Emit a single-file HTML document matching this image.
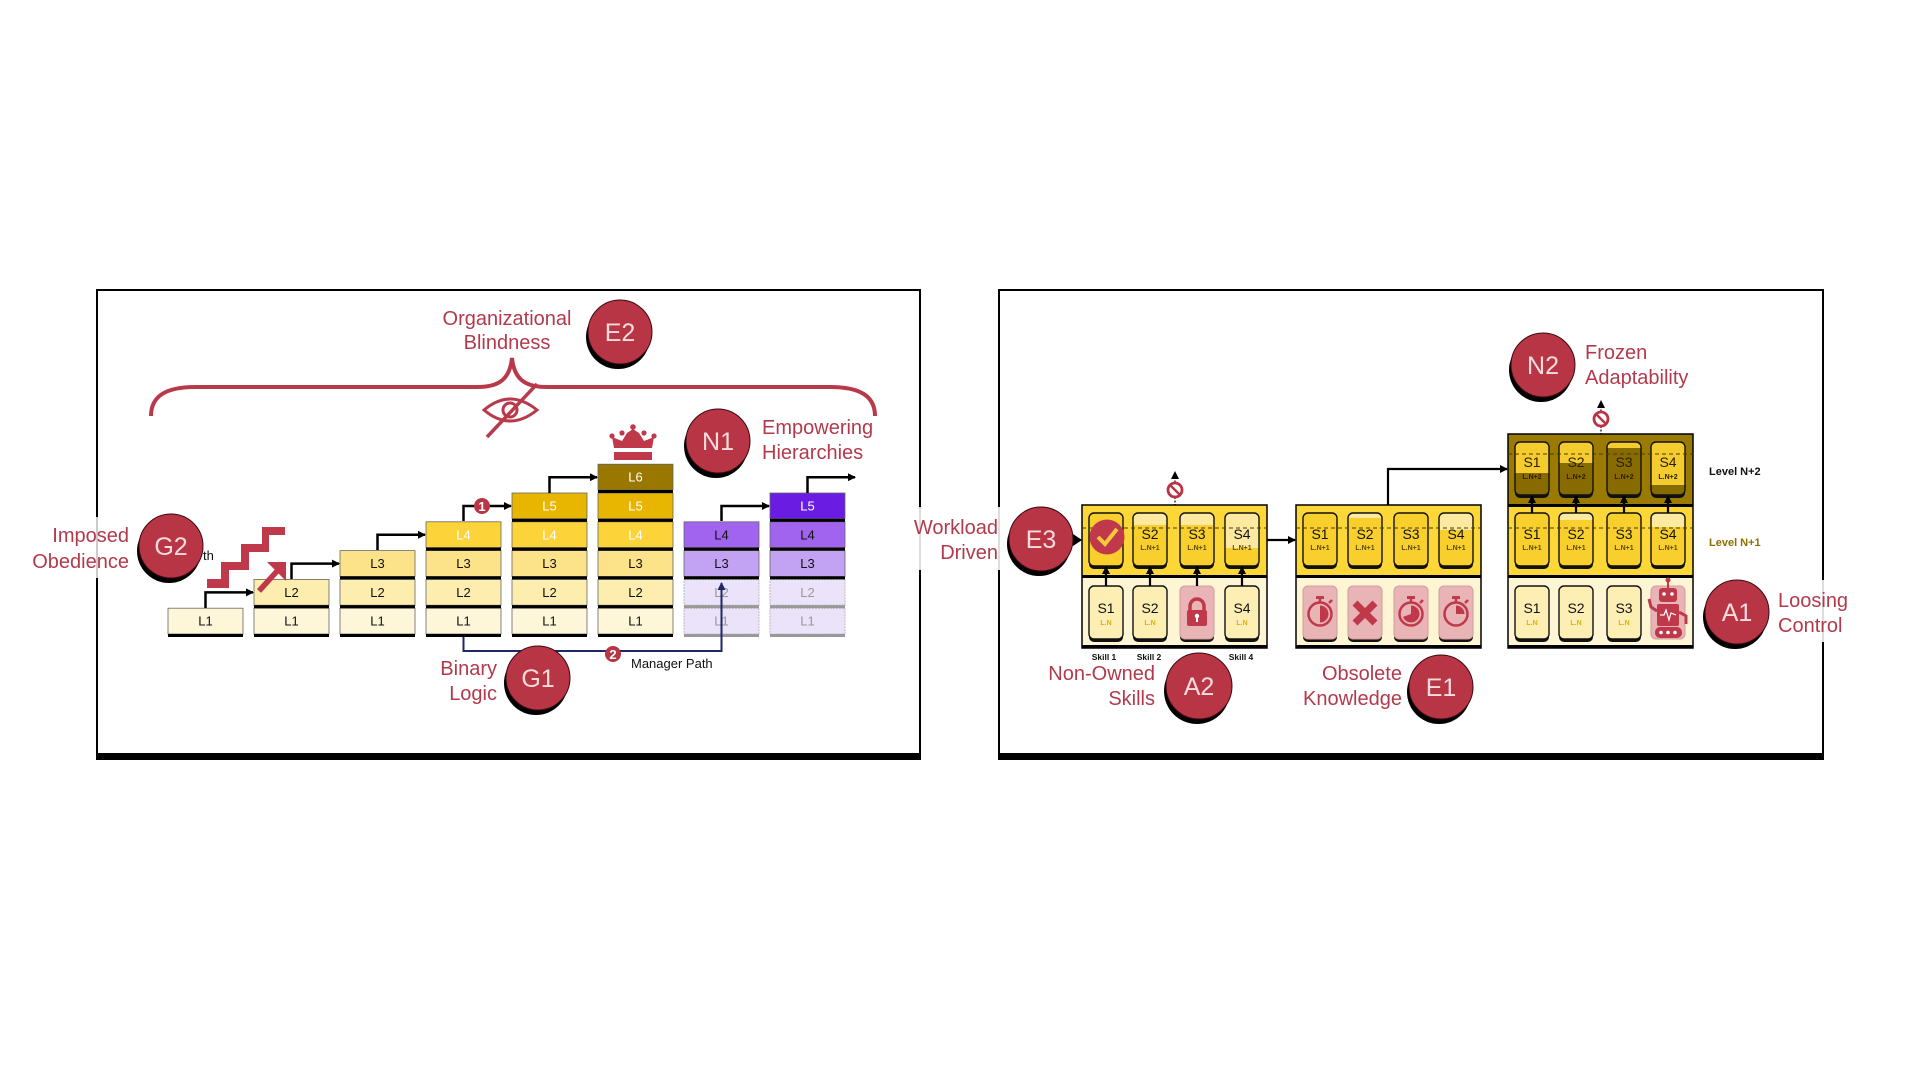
<!DOCTYPE html>
<html><head><meta charset="utf-8"><style>
html,body{margin:0;padding:0;background:#fff;width:1917px;height:1072px;overflow:hidden}
svg{display:block}
.lbl{font-family:"Liberation Sans",sans-serif;font-size:20px;fill:#b23a4c}
.bt{font-family:"Liberation Sans",sans-serif;font-size:25px;fill:#f7dcdc;text-anchor:middle}
.lt{font-family:"Liberation Sans",sans-serif;font-size:13px;text-anchor:middle;fill:#111}
.s{font-family:"Liberation Sans",sans-serif;font-size:14px;text-anchor:middle;fill:#111}
.sl{font-family:"Liberation Sans",sans-serif;font-size:7px;font-weight:bold;text-anchor:middle;fill:#5a4a00}
.sg{font-family:"Liberation Sans",sans-serif;font-size:7px;font-weight:bold;text-anchor:middle;fill:#e0b000}
.sk{font-family:"Liberation Sans",sans-serif;font-size:8.5px;font-weight:bold;text-anchor:middle;fill:#111}
</style></head><body>
<svg width="1917" height="1072" viewBox="0 0 1917 1072" xmlns="http://www.w3.org/2000/svg">
<defs>
<marker id="ah" markerWidth="8" markerHeight="8" refX="7" refY="4" orient="auto" markerUnits="userSpaceOnUse"><path d="M0,0 L8,4 L0,8 Z" fill="#000"/></marker>
<marker id="ahn" markerWidth="8" markerHeight="8" refX="7" refY="4" orient="auto" markerUnits="userSpaceOnUse"><path d="M0,0 L8,4 L0,8 Z" fill="#1e2768"/></marker>
</defs>

<!-- ========== LEFT BOX ========== -->
<rect x="97" y="290" width="823" height="467" fill="none" stroke="#000" stroke-width="2"/>
<rect x="96" y="753" width="825" height="7" fill="#000"/>

<!-- brace -->
<path d="M151,416 C151,396 166,387 195,387 L478,387 C500,387 510,378 512,358 C514,378 524,387 546,387 L830,387 C860,387 875,396 875,416" fill="none" stroke="#b83a4a" stroke-width="4"/>
<!-- eye -->
<path d="M484,410 Q510,388 537,410 Q510,432 484,410 Z" fill="none" stroke="#b83a4a" stroke-width="3"/>
<circle cx="510" cy="410" r="7" fill="none" stroke="#b83a4a" stroke-width="3"/>
<line x1="487" y1="437" x2="537" y2="384" stroke="#b83a4a" stroke-width="3.5"/>

<!-- crown -->
<polygon points="614,448 612,437 622,441 627,433 633,429 639,433 644,441 654,437 652,448" fill="#c0394b"/>
<circle cx="612" cy="436" r="2.6" fill="#c0394b"/><circle cx="622" cy="433" r="2.6" fill="#c0394b"/>
<circle cx="633" cy="427" r="2.8" fill="#c0394b"/><circle cx="644" cy="433" r="2.6" fill="#c0394b"/>
<circle cx="654" cy="436" r="2.6" fill="#c0394b"/>
<rect x="614" y="452" width="38" height="8" fill="#c0394b"/>

<!-- stairs icon -->
<path d="M207,579 H221 V562 H241 V544 H262 V527 H285 V535 H269 V552 H249 V570 H229 V588 H207 Z" fill="#c0394b"/>

<!-- "th" -->
<text x="203" y="560" font-family="Liberation Sans,sans-serif" font-size="13" fill="#111">th</text>

<!-- columns -->
<g stroke="#666" stroke-width="0.8">
<rect x="168" y="608.2" width="75" height="25.8" fill="#fef6d8"/><rect x="168" y="634" width="75" height="3" fill="#000" stroke="none"/>
<rect x="254" y="608.2" width="75" height="25.8" fill="#fef6d8"/><rect x="254" y="634" width="75" height="3" fill="#000" stroke="none"/>
<rect x="254" y="579.4" width="75" height="25.8" fill="#fdeeb0"/><rect x="254" y="605.2" width="75" height="3" fill="#000" stroke="none"/>
<rect x="340" y="608.2" width="75" height="25.8" fill="#fef6d8"/><rect x="340" y="634" width="75" height="3" fill="#000" stroke="none"/>
<rect x="340" y="579.4" width="75" height="25.8" fill="#fdeeb0"/><rect x="340" y="605.2" width="75" height="3" fill="#000" stroke="none"/>
<rect x="340" y="550.6" width="75" height="25.8" fill="#fce38a"/><rect x="340" y="576.4" width="75" height="3" fill="#000" stroke="none"/>
<rect x="426" y="608.2" width="75" height="25.8" fill="#fef6d8"/><rect x="426" y="634" width="75" height="3" fill="#000" stroke="none"/>
<rect x="426" y="579.4" width="75" height="25.8" fill="#fdeeb0"/><rect x="426" y="605.2" width="75" height="3" fill="#000" stroke="none"/>
<rect x="426" y="550.6" width="75" height="25.8" fill="#fce38a"/><rect x="426" y="576.4" width="75" height="3" fill="#000" stroke="none"/>
<rect x="426" y="521.8" width="75" height="25.8" fill="#fcd43a"/><rect x="426" y="547.6" width="75" height="3" fill="#000" stroke="none"/>
<rect x="512" y="608.2" width="75" height="25.8" fill="#fef6d8"/><rect x="512" y="634" width="75" height="3" fill="#000" stroke="none"/>
<rect x="512" y="579.4" width="75" height="25.8" fill="#fdeeb0"/><rect x="512" y="605.2" width="75" height="3" fill="#000" stroke="none"/>
<rect x="512" y="550.6" width="75" height="25.8" fill="#fce38a"/><rect x="512" y="576.4" width="75" height="3" fill="#000" stroke="none"/>
<rect x="512" y="521.8" width="75" height="25.8" fill="#fcd43a"/><rect x="512" y="547.6" width="75" height="3" fill="#000" stroke="none"/>
<rect x="512" y="493" width="75" height="25.8" fill="#e8b500"/><rect x="512" y="518.8" width="75" height="3" fill="#000" stroke="none"/>
<rect x="598" y="608.2" width="75" height="25.8" fill="#fef6d8"/><rect x="598" y="634" width="75" height="3" fill="#000" stroke="none"/>
<rect x="598" y="579.4" width="75" height="25.8" fill="#fdeeb0"/><rect x="598" y="605.2" width="75" height="3" fill="#000" stroke="none"/>
<rect x="598" y="550.6" width="75" height="25.8" fill="#fce38a"/><rect x="598" y="576.4" width="75" height="3" fill="#000" stroke="none"/>
<rect x="598" y="521.8" width="75" height="25.8" fill="#fcd43a"/><rect x="598" y="547.6" width="75" height="3" fill="#000" stroke="none"/>
<rect x="598" y="493" width="75" height="25.8" fill="#e8b500"/><rect x="598" y="518.8" width="75" height="3" fill="#000" stroke="none"/>
<rect x="598" y="464.2" width="75" height="25.8" fill="#9a7800"/><rect x="598" y="490" width="75" height="3" fill="#000" stroke="none"/>
<rect x="684" y="608.2" width="75" height="25.8" fill="#ebe3f9" stroke="#aaa" stroke-dasharray="2,1"/><rect x="684" y="634" width="75" height="3" fill="#999" stroke="none"/>
<rect x="684" y="579.4" width="75" height="25.8" fill="#ebe3f9" stroke="#aaa" stroke-dasharray="2,1"/><rect x="684" y="605.2" width="75" height="3" fill="#999" stroke="none"/>
<rect x="684" y="550.6" width="75" height="25.8" fill="#c2a3f3"/><rect x="684" y="576.4" width="75" height="3" fill="#000" stroke="none"/>
<rect x="684" y="521.8" width="75" height="25.8" fill="#a064ee"/><rect x="684" y="547.6" width="75" height="3" fill="#000" stroke="none"/>
<rect x="770" y="608.2" width="75" height="25.8" fill="#ebe3f9" stroke="#aaa" stroke-dasharray="2,1"/><rect x="770" y="634" width="75" height="3" fill="#999" stroke="none"/>
<rect x="770" y="579.4" width="75" height="25.8" fill="#ebe3f9" stroke="#aaa" stroke-dasharray="2,1"/><rect x="770" y="605.2" width="75" height="3" fill="#999" stroke="none"/>
<rect x="770" y="550.6" width="75" height="25.8" fill="#c2a3f3"/><rect x="770" y="576.4" width="75" height="3" fill="#000" stroke="none"/>
<rect x="770" y="521.8" width="75" height="25.8" fill="#a064ee"/><rect x="770" y="547.6" width="75" height="3" fill="#000" stroke="none"/>
<rect x="770" y="493" width="75" height="25.8" fill="#6a1ce2"/><rect x="770" y="518.8" width="75" height="3" fill="#000" stroke="none"/>
</g>

<!-- red diagonal arrow (over L2) -->
<line x1="259" y1="591" x2="279" y2="569" stroke="#c0394b" stroke-width="5.5"/>
<polygon points="286,562 267,562 286,581" fill="#c0394b"/>

<!-- column labels -->
<g class="lt">
<text x="205.5" y="625.7" class="lt">L1</text>
<text x="291.5" y="625.7" class="lt">L1</text><text x="291.5" y="596.9" class="lt">L2</text>
<text x="377.5" y="625.7" class="lt">L1</text><text x="377.5" y="596.9" class="lt">L2</text><text x="377.5" y="568.1" class="lt">L3</text>
<text x="463.5" y="625.7" class="lt">L1</text><text x="463.5" y="596.9" class="lt">L2</text><text x="463.5" y="568.1" class="lt">L3</text><text x="463.5" y="539.3" class="lt" style="fill:#fff">L4</text>
<text x="549.5" y="625.7" class="lt">L1</text><text x="549.5" y="596.9" class="lt">L2</text><text x="549.5" y="568.1" class="lt">L3</text><text x="549.5" y="539.3" class="lt" style="fill:#fff">L4</text><text x="549.5" y="510.5" class="lt" style="fill:#fff">L5</text>
<text x="635.5" y="625.7" class="lt">L1</text><text x="635.5" y="596.9" class="lt">L2</text><text x="635.5" y="568.1" class="lt">L3</text><text x="635.5" y="539.3" class="lt" style="fill:#fff">L4</text><text x="635.5" y="510.5" class="lt" style="fill:#fff">L5</text><text x="635.5" y="481.7" class="lt" style="fill:#fff">L6</text>
<text x="721.5" y="625.7" class="lt" style="fill:#999">L1</text><text x="721.5" y="596.9" class="lt" style="fill:#999">L2</text><text x="721.5" y="568.1" class="lt">L3</text><text x="721.5" y="539.3" class="lt">L4</text>
<text x="807.5" y="625.7" class="lt" style="fill:#999">L1</text><text x="807.5" y="596.9" class="lt" style="fill:#999">L2</text><text x="807.5" y="568.1" class="lt">L3</text><text x="807.5" y="539.3" class="lt">L4</text><text x="807.5" y="510.5" class="lt" style="fill:#fff">L5</text>
</g>

<!-- step arrows -->
<g fill="none" stroke="#000" stroke-width="2.5">
<path d="M205.5,608 V592.4 H253" marker-end="url(#ah)"/>
<path d="M291.5,579 V563.6 H339" marker-end="url(#ah)"/>
<path d="M377.5,550 V534.8 H425" marker-end="url(#ah)"/>
<path d="M463.5,521 V506 H511" marker-end="url(#ah)"/>
<path d="M549.5,493 V477.2 H597" marker-end="url(#ah)"/>
<path d="M721.5,521 V506 H769" marker-end="url(#ah)"/>
<path d="M807.5,493 V477.2 H855" marker-end="url(#ah)"/>
</g>
<circle cx="482" cy="506" r="8" fill="#b83545"/>
<text x="482" y="511" font-family="Liberation Sans,sans-serif" font-size="13" font-weight="bold" fill="#fff" text-anchor="middle">1</text>

<!-- manager path -->
<path d="M463.5,637 V651 H721.5 V583" fill="none" stroke="#1e2768" stroke-width="2" marker-end="url(#ahn)"/>
<circle cx="613" cy="654" r="8" fill="#b83545"/>
<text x="613" y="659" font-family="Liberation Sans,sans-serif" font-size="13" font-weight="bold" fill="#fff" text-anchor="middle">2</text>
<text x="631" y="668" font-family="Liberation Sans,sans-serif" font-size="13" fill="#111">Manager Path</text>

<!-- ========== RIGHT BOX ========== -->
<rect x="999" y="290" width="824" height="467" fill="none" stroke="#000" stroke-width="2"/>
<rect x="998" y="753" width="826" height="7" fill="#000"/>

<!-- panel 1 -->
<rect x="1082" y="505" width="185" height="70" fill="#fdd638"/>
<rect x="1082" y="578" width="185" height="67" fill="#fef5d5"/>
<rect x="1082" y="575" width="185" height="3" fill="#000"/>
<rect x="1082" y="645" width="185" height="3" fill="#000"/>
<rect x="1082" y="505" width="185" height="143" fill="none" stroke="#000" stroke-width="1.5"/>
<!-- panel 2 -->
<rect x="1296" y="505" width="185" height="70" fill="#fdd638"/>
<rect x="1296" y="578" width="185" height="67" fill="#fef5d5"/>
<rect x="1296" y="575" width="185" height="3" fill="#000"/>
<rect x="1296" y="645" width="185" height="3" fill="#000"/>
<rect x="1296" y="505" width="185" height="143" fill="none" stroke="#000" stroke-width="1.5"/>
<!-- panel 3 -->
<rect x="1508" y="434" width="185" height="70" fill="#9a7a02"/>
<rect x="1508" y="504" width="185" height="3" fill="#000"/>
<rect x="1508" y="507" width="185" height="68" fill="#fdd638"/>
<rect x="1508" y="578" width="185" height="67" fill="#fef5d5"/>
<rect x="1508" y="575" width="185" height="3" fill="#000"/>
<rect x="1508" y="645" width="185" height="3" fill="#000"/>
<rect x="1508" y="434" width="185" height="214" fill="none" stroke="#000" stroke-width="1.5"/>

<!-- card shadows -->
<g fill="#111">
<rect x="1089" y="516" width="34" height="53" rx="5"/><rect x="1133" y="516" width="34" height="53" rx="5"/><rect x="1180" y="516" width="34" height="53" rx="5"/><rect x="1225" y="516" width="34" height="53" rx="5"/>
<rect x="1089" y="589" width="34" height="53" rx="5"/><rect x="1133" y="589" width="34" height="53" rx="5"/><rect x="1180" y="589" width="34" height="53" rx="5"/><rect x="1225" y="589" width="34" height="53" rx="5"/>
<rect x="1303" y="516" width="34" height="53" rx="5"/><rect x="1348" y="516" width="34" height="53" rx="5"/><rect x="1394" y="516" width="34" height="53" rx="5"/><rect x="1439" y="516" width="34" height="53" rx="5"/>
<rect x="1303" y="589" width="34" height="53" rx="5"/><rect x="1348" y="589" width="34" height="53" rx="5"/><rect x="1394" y="589" width="34" height="53" rx="5"/><rect x="1439" y="589" width="34" height="53" rx="5"/>
<rect x="1515" y="445" width="34" height="53" rx="5"/><rect x="1559" y="445" width="34" height="53" rx="5"/><rect x="1607" y="445" width="34" height="53" rx="5"/><rect x="1651" y="445" width="34" height="53" rx="5"/>
<rect x="1515" y="516" width="34" height="53" rx="5"/><rect x="1559" y="516" width="34" height="53" rx="5"/><rect x="1607" y="516" width="34" height="53" rx="5"/><rect x="1651" y="516" width="34" height="53" rx="5"/>
<rect x="1515" y="589" width="34" height="53" rx="5"/><rect x="1559" y="589" width="34" height="53" rx="5"/><rect x="1607" y="589" width="34" height="53" rx="5"/>
</g>

<!-- panel1 upper cards -->
<rect x="1089" y="513" width="34" height="53" rx="5" fill="#f9cf2e"/>
<rect x="1133" y="513" width="34" height="53" rx="5" fill="#fde9a0"/><path d="M1133,525 H1167 V561 Q1167,566 1162,566 H1138 Q1133,566 1133,561 Z" fill="#f9cf2e"/>
<rect x="1180" y="513" width="34" height="53" rx="5" fill="#fde9a0"/><path d="M1180,525 H1214 V561 Q1214,566 1209,566 H1185 Q1180,566 1180,561 Z" fill="#f9cf2e"/>
<rect x="1225" y="513" width="34" height="53" rx="5" fill="#fde9a0"/><path d="M1225,548 H1259 V561 Q1259,566 1254,566 H1230 Q1225,566 1225,561 Z" fill="#f9cf2e"/>
<!-- panel1 lower cards -->
<rect x="1089" y="586" width="34" height="53" rx="5" fill="#fdeeb4"/>
<rect x="1133" y="586" width="34" height="53" rx="5" fill="#fdeeb4"/>
<rect x="1180" y="586" width="34" height="53" rx="5" fill="#e8b4b6"/>
<rect x="1225" y="586" width="34" height="53" rx="5" fill="#fdeeb4"/>
<!-- panel2 upper -->
<rect x="1303" y="513" width="34" height="53" rx="5" fill="#f9cf2e"/>
<rect x="1348" y="513" width="34" height="53" rx="5" fill="#fde9a0"/><path d="M1348,518 H1382 V561 Q1382,566 1377,566 H1353 Q1348,566 1348,561 Z" fill="#f9cf2e"/>
<rect x="1394" y="513" width="34" height="53" rx="5" fill="#f9cf2e"/>
<rect x="1439" y="513" width="34" height="53" rx="5" fill="#fde9a0"/><path d="M1439,530 H1473 V561 Q1473,566 1468,566 H1444 Q1439,566 1439,561 Z" fill="#f9cf2e"/>
<!-- panel2 lower -->
<rect x="1303" y="586" width="34" height="53" rx="5" fill="#e8b4b6"/>
<rect x="1348" y="586" width="34" height="53" rx="5" fill="#e8b4b6"/>
<rect x="1394" y="586" width="34" height="53" rx="5" fill="#e8b4b6"/>
<rect x="1439" y="586" width="34" height="53" rx="5" fill="#e8b4b6"/>
<!-- panel3 top -->
<rect x="1515" y="442" width="34" height="53" rx="5" fill="#f5cc30"/><path d="M1515,473 H1549 V490 Q1549,495 1544,495 H1520 Q1515,495 1515,490 Z" fill="#876a00"/>
<rect x="1559" y="442" width="34" height="53" rx="5" fill="#f5cc30"/><path d="M1559,463 H1593 V490 Q1593,495 1588,495 H1564 Q1559,495 1559,490 Z" fill="#876a00"/>
<rect x="1607" y="442" width="34" height="53" rx="5" fill="#f5cc30"/><path d="M1607,448 H1641 V490 Q1641,495 1636,495 H1612 Q1607,495 1607,490 Z" fill="#876a00"/>
<rect x="1651" y="442" width="34" height="53" rx="5" fill="#f5cc30"/><path d="M1651,485 H1685 V490 Q1685,495 1680,495 H1656 Q1651,495 1651,490 Z" fill="#876a00"/>
<!-- panel3 mid -->
<rect x="1515" y="513" width="34" height="53" rx="5" fill="#f9cf2e"/>
<rect x="1559" y="513" width="34" height="53" rx="5" fill="#fde9a0"/><path d="M1559,520 H1593 V561 Q1593,566 1588,566 H1564 Q1559,566 1559,561 Z" fill="#f9cf2e"/>
<rect x="1607" y="513" width="34" height="53" rx="5" fill="#f9cf2e"/>
<rect x="1651" y="513" width="34" height="53" rx="5" fill="#fde9a0"/><path d="M1651,527 H1685 V561 Q1685,566 1680,566 H1656 Q1651,566 1651,561 Z" fill="#f9cf2e"/>
<!-- panel3 lower -->
<rect x="1515" y="586" width="34" height="53" rx="5" fill="#fdeeb4"/>
<rect x="1559" y="586" width="34" height="53" rx="5" fill="#fdeeb4"/>
<rect x="1607" y="586" width="34" height="53" rx="5" fill="#fdeeb4"/>
<rect x="1651" y="586" width="34" height="53" rx="5" fill="#e8b4b6"/>

<!-- card outlines -->
<g fill="none" stroke="#111" stroke-width="1.4">
<rect x="1089" y="513" width="34" height="53" rx="5"/><rect x="1133" y="513" width="34" height="53" rx="5"/><rect x="1180" y="513" width="34" height="53" rx="5"/><rect x="1225" y="513" width="34" height="53" rx="5"/>
<rect x="1089" y="586" width="34" height="53" rx="5"/><rect x="1133" y="586" width="34" height="53" rx="5"/><rect x="1225" y="586" width="34" height="53" rx="5"/>
<rect x="1303" y="513" width="34" height="53" rx="5"/><rect x="1348" y="513" width="34" height="53" rx="5"/><rect x="1394" y="513" width="34" height="53" rx="5"/><rect x="1439" y="513" width="34" height="53" rx="5"/>
<rect x="1515" y="442" width="34" height="53" rx="5"/><rect x="1559" y="442" width="34" height="53" rx="5"/><rect x="1607" y="442" width="34" height="53" rx="5"/><rect x="1651" y="442" width="34" height="53" rx="5"/>
<rect x="1515" y="513" width="34" height="53" rx="5"/><rect x="1559" y="513" width="34" height="53" rx="5"/><rect x="1607" y="513" width="34" height="53" rx="5"/><rect x="1651" y="513" width="34" height="53" rx="5"/>
<rect x="1515" y="586" width="34" height="53" rx="5"/><rect x="1559" y="586" width="34" height="53" rx="5"/><rect x="1607" y="586" width="34" height="53" rx="5"/>
</g>
<g fill="none" stroke="#d49a9c" stroke-width="1">
<rect x="1180" y="586" width="34" height="53" rx="5"/>
<rect x="1303" y="586" width="34" height="53" rx="5"/><rect x="1348" y="586" width="34" height="53" rx="5"/><rect x="1394" y="586" width="34" height="53" rx="5"/><rect x="1439" y="586" width="34" height="53" rx="5"/>
<rect x="1651" y="586" width="34" height="53" rx="5"/>
</g>

<!-- dashed level lines -->
<g stroke="#4a3c00" stroke-width="1" stroke-dasharray="4,3">
<line x1="1082" y1="528" x2="1267" y2="528"/>
<line x1="1296" y1="528" x2="1481" y2="528"/>
<line x1="1508" y1="528" x2="1693" y2="528"/>
<line x1="1508" y1="454" x2="1693" y2="454"/>
</g>

<!-- card texts panel1 -->
<text x="1150" y="539" class="s">S2</text><text x="1150" y="550" class="sl">L.N+1</text>
<text x="1197" y="539" class="s">S3</text><text x="1197" y="550" class="sl">L.N+1</text>
<text x="1242" y="539" class="s">S4</text><text x="1242" y="550" class="sl">L.N+1</text>
<text x="1106" y="613" class="s">S1</text><text x="1106" y="625" class="sg">L.N</text>
<text x="1150" y="613" class="s">S2</text><text x="1150" y="625" class="sg">L.N</text>
<text x="1242" y="613" class="s">S4</text><text x="1242" y="625" class="sg">L.N</text>
<!-- panel2 -->
<text x="1320" y="539" class="s">S1</text><text x="1320" y="550" class="sl">L.N+1</text>
<text x="1365" y="539" class="s">S2</text><text x="1365" y="550" class="sl">L.N+1</text>
<text x="1411" y="539" class="s">S3</text><text x="1411" y="550" class="sl">L.N+1</text>
<text x="1456" y="539" class="s">S4</text><text x="1456" y="550" class="sl">L.N+1</text>
<!-- panel3 -->
<text x="1532" y="467" class="s" style="fill:#2a2000">S1</text><text x="1532" y="479" class="sl" style="fill:#2a2000">L.N+2</text>
<text x="1576" y="467" class="s" style="fill:#2a2000">S2</text><text x="1576" y="479" class="sl" style="fill:#2a2000">L.N+2</text>
<text x="1624" y="467" class="s" style="fill:#2a2000">S3</text><text x="1624" y="479" class="sl" style="fill:#2a2000">L.N+2</text>
<text x="1668" y="467" class="s" style="fill:#2a2000">S4</text><text x="1668" y="479" class="sl" style="fill:#2a2000">L.N+2</text>
<text x="1532" y="539" class="s">S1</text><text x="1532" y="550" class="sl">L.N+1</text>
<text x="1576" y="539" class="s">S2</text><text x="1576" y="550" class="sl">L.N+1</text>
<text x="1624" y="539" class="s">S3</text><text x="1624" y="550" class="sl">L.N+1</text>
<text x="1668" y="539" class="s">S4</text><text x="1668" y="550" class="sl">L.N+1</text>
<text x="1532" y="613" class="s">S1</text><text x="1532" y="625" class="sg">L.N</text>
<text x="1576" y="613" class="s">S2</text><text x="1576" y="625" class="sg">L.N</text>
<text x="1624" y="613" class="s">S3</text><text x="1624" y="625" class="sg">L.N</text>

<!-- up arrows in cards -->
<g stroke="#000" stroke-width="2.2" fill="none">
<line x1="1106" y1="586" x2="1106" y2="567" marker-end="url(#ah)"/>
<line x1="1150" y1="586" x2="1150" y2="567" marker-end="url(#ah)"/>
<line x1="1197" y1="586" x2="1197" y2="567" marker-end="url(#ah)"/>
<line x1="1242" y1="586" x2="1242" y2="567" marker-end="url(#ah)"/>
<line x1="1532" y1="513" x2="1532" y2="496" marker-end="url(#ah)"/>
<line x1="1576" y1="513" x2="1576" y2="496" marker-end="url(#ah)"/>
<line x1="1624" y1="513" x2="1624" y2="496" marker-end="url(#ah)"/>
<line x1="1668" y1="513" x2="1668" y2="496" marker-end="url(#ah)"/>
<line x1="1267" y1="540" x2="1295" y2="540" marker-end="url(#ah)"/>
<path d="M1388,505 V469 H1507" marker-end="url(#ah)"/>
</g>
<polygon points="1073,534 1082,540 1073,546" fill="#000"/>

<!-- check circle -->
<circle cx="1107" cy="537" r="17.5" fill="#c0394b"/>
<path d="M1098,537 L1105,544 L1117,529" fill="none" stroke="#f6c83a" stroke-width="4"/>

<!-- lock -->
<path d="M1190,612 V606 A7,7 0 0 1 1204,606 V612" fill="none" stroke="#c0394b" stroke-width="3.5"/>
<rect x="1187" y="610" width="20" height="16" rx="2" fill="#c0394b"/>
<circle cx="1197" cy="616" r="2.2" fill="#fff"/><rect x="1196" y="617" width="2" height="5" fill="#fff"/>

<!-- stopwatches and X -->
<g stroke="#c0394b" stroke-width="2.5" fill="none">
<circle cx="1320" cy="614" r="11.5"/><circle cx="1411" cy="614" r="11.5"/><circle cx="1456" cy="614" r="11.5"/>
<line x1="1320" y1="599" x2="1320" y2="602.5"/><line x1="1411" y1="599" x2="1411" y2="602.5"/><line x1="1456" y1="599" x2="1456" y2="602.5"/>
<line x1="1329" y1="603" x2="1332" y2="600"/><line x1="1420" y1="603" x2="1423" y2="600"/><line x1="1465" y1="603" x2="1468" y2="600"/>
</g>
<g fill="#c0394b">
<rect x="1316" y="596" width="8" height="3"/><rect x="1407" y="596" width="8" height="3"/><rect x="1452" y="596" width="8" height="3"/>
<path d="M1320,614 L1320,605.5 A8.5,8.5 0 0 1 1320,622.5 Z"/>
<path d="M1411,614 L1411,605.5 A8.5,8.5 0 1 1 1403,616.9 Z"/>
<path d="M1456,614 L1456,605.5 A8.5,8.5 0 0 1 1464.5,614 Z"/>
</g>
<g stroke="#c0394b" stroke-width="7">
<line x1="1355" y1="603" x2="1375" y2="623"/><line x1="1375" y1="603" x2="1355" y2="623"/>
</g>

<!-- robot -->
<g fill="#c0394b">
<line x1="1668" y1="581" x2="1668" y2="589" stroke="#c0394b" stroke-width="2"/>
<circle cx="1668" cy="580" r="2.5"/>
<rect x="1659" y="588" width="18" height="14" rx="3"/>
<rect x="1657" y="604" width="22" height="22" rx="2"/>
<rect x="1655" y="627" width="27" height="11" rx="5"/>
</g>
<circle cx="1664" cy="594" r="1.8" fill="#fff"/><circle cx="1672" cy="594" r="1.8" fill="#fff"/>
<polyline points="1660,615 1664,615 1666,610 1669,620 1671,613 1676,615" fill="none" stroke="#fff" stroke-width="1.2"/>
<circle cx="1661" cy="632.5" r="1.8" fill="#fff"/><circle cx="1668" cy="632.5" r="1.8" fill="#fff"/><circle cx="1675" cy="632.5" r="1.8" fill="#fff"/>
<path d="M1657,611 L1651,607 L1649,599" fill="none" stroke="#c0394b" stroke-width="3"/>
<path d="M1679,612 L1686,616 L1686,624" fill="none" stroke="#c0394b" stroke-width="3"/>

<!-- blocked icons -->
<g>
<line x1="1175" y1="477" x2="1175" y2="483" stroke="#000" stroke-width="1.2" stroke-dasharray="2,1.5"/>
<polygon points="1171,479 1175,471 1179,479" fill="#000"/>
<line x1="1175" y1="497" x2="1175" y2="505" stroke="#000" stroke-width="1.2" stroke-dasharray="2,1.5"/>
<circle cx="1175" cy="490" r="7" fill="#fff" stroke="#b83545" stroke-width="2.8"/>
<line x1="1170" y1="485" x2="1180" y2="495" stroke="#b83545" stroke-width="2.5"/>
<line x1="1601" y1="406" x2="1601" y2="412" stroke="#000" stroke-width="1.2" stroke-dasharray="2,1.5"/>
<polygon points="1597,408 1601,400 1605,408" fill="#000"/>
<line x1="1601" y1="426" x2="1601" y2="434" stroke="#000" stroke-width="1.2" stroke-dasharray="2,1.5"/>
<circle cx="1601" cy="419" r="7" fill="#fff" stroke="#b83545" stroke-width="2.8"/>
<line x1="1596" y1="414" x2="1606" y2="424" stroke="#b83545" stroke-width="2.5"/>
</g>

<!-- level labels -->
<text x="1709" y="475" font-family="Liberation Sans,sans-serif" font-size="11" font-weight="bold" fill="#111">Level N+2</text>
<text x="1709" y="546" font-family="Liberation Sans,sans-serif" font-size="11" font-weight="bold" fill="#8a7000">Level N+1</text>

<!-- skill labels -->
<text x="1104" y="660" class="sk">Skill 1</text>
<text x="1149" y="660" class="sk">Skill 2</text>
<text x="1241" y="660" class="sk">Skill 4</text>

<!-- label white boxes -->
<rect x="40" y="517" width="92" height="61" fill="#fff"/>
<line x1="97" y1="517" x2="97" y2="578" stroke="#ccc" stroke-width="2"/>
<rect x="918" y="507" width="82" height="63" fill="#fff"/>
<line x1="920" y1="507" x2="920" y2="570" stroke="#ddd" stroke-width="2"/>
<line x1="999" y1="507" x2="999" y2="570" stroke="#ddd" stroke-width="2"/>
<rect x="1776" y="580" width="80" height="62" fill="#fff"/>
<line x1="1823" y1="580" x2="1823" y2="642" stroke="#ddd" stroke-width="2"/>

<!-- red labels -->
<text x="507" y="325" class="lbl" text-anchor="middle">Organizational</text>
<text x="507" y="349" class="lbl" text-anchor="middle">Blindness</text>
<text x="129" y="542" class="lbl" text-anchor="end">Imposed</text>
<text x="129" y="568" class="lbl" text-anchor="end">Obedience</text>
<text x="497" y="675" class="lbl" text-anchor="end">Binary</text>
<text x="497" y="700" class="lbl" text-anchor="end">Logic</text>
<text x="762" y="434" class="lbl">Empowering</text>
<text x="762" y="459" class="lbl">Hierarchies</text>
<text x="998" y="534" class="lbl" text-anchor="end">Workload</text>
<text x="998" y="559" class="lbl" text-anchor="end">Driven</text>
<text x="1155" y="680" class="lbl" text-anchor="end">Non-Owned</text>
<text x="1155" y="705" class="lbl" text-anchor="end">Skills</text>
<text x="1402" y="680" class="lbl" text-anchor="end">Obsolete</text>
<text x="1402" y="705" class="lbl" text-anchor="end">Knowledge</text>
<text x="1585" y="359" class="lbl">Frozen</text>
<text x="1585" y="384" class="lbl">Adaptability</text>
<text x="1778" y="607" class="lbl">Loosing</text>
<text x="1778" y="632" class="lbl">Control</text>

<!-- badges -->
<g>
<circle cx="169" cy="551" r="32" fill="#000"/><circle cx="171" cy="546" r="32" fill="#b83545" stroke="#3a0a10" stroke-width="1"/><text x="171" y="555" class="bt">G2</text>
<circle cx="618" cy="337" r="32" fill="#000"/><circle cx="620" cy="332" r="32" fill="#b83545" stroke="#3a0a10" stroke-width="1"/><text x="620" y="341" class="bt">E2</text>
<circle cx="716" cy="446" r="32" fill="#000"/><circle cx="718" cy="441" r="32" fill="#b83545" stroke="#3a0a10" stroke-width="1"/><text x="718" y="450" class="bt">N1</text>
<circle cx="536" cy="683" r="32" fill="#000"/><circle cx="538" cy="678" r="32" fill="#b83545" stroke="#3a0a10" stroke-width="1"/><text x="538" y="687" class="bt">G1</text>
<circle cx="1039" cy="544" r="32" fill="#000"/><circle cx="1041" cy="539" r="32" fill="#b83545" stroke="#3a0a10" stroke-width="1"/><text x="1041" y="548" class="bt">E3</text>
<circle cx="1197" cy="691" r="33" fill="#000"/><circle cx="1199" cy="686" r="33" fill="#b83545" stroke="#3a0a10" stroke-width="1"/><text x="1199" y="695" class="bt">A2</text>
<circle cx="1439" cy="692" r="32" fill="#000"/><circle cx="1441" cy="687" r="32" fill="#b83545" stroke="#3a0a10" stroke-width="1"/><text x="1441" y="696" class="bt">E1</text>
<circle cx="1541" cy="370" r="32" fill="#000"/><circle cx="1543" cy="365" r="32" fill="#b83545" stroke="#3a0a10" stroke-width="1"/><text x="1543" y="374" class="bt">N2</text>
<circle cx="1735" cy="617" r="32" fill="#000"/><circle cx="1737" cy="612" r="32" fill="#b83545" stroke="#3a0a10" stroke-width="1"/><text x="1737" y="621" class="bt">A1</text>
</g>
</svg>
</body></html>
